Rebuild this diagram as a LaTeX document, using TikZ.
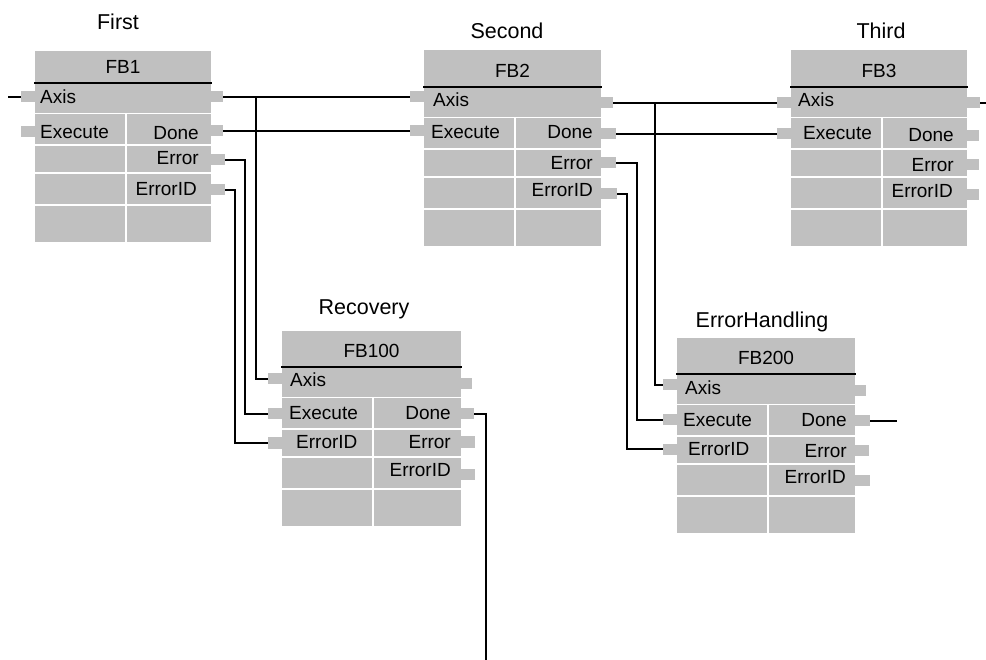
\documentclass[tikz,border=0pt]{standalone}
\usepackage{fontspec}
\setmainfont{Liberation Sans}
\usetikzlibrary{calc}
\definecolor{blockgray}{RGB}{192,192,192}
\tikzset{
  block/.style={fill=blockgray, inner sep=0, outer sep=0, anchor=north west},
  inpin/.style={fill=blockgray, inner sep=0, outer sep=0, minimum width=14pt, minimum height=11pt, anchor=east},
  outpin/.style={fill=blockgray, inner sep=0, outer sep=0, minimum height=11pt, anchor=west},
  sepline/.style={white, line width=1.6pt},
  headrule/.style={black, line width=2pt},
  wire/.style={black, line width=1.5pt},
  pinlabel/.style={inner sep=0, font=\fontsize{19}{19}\selectfont},
  typename/.style={inner sep=0, anchor=base, font=\fontsize{19}{19}\selectfont},
  instname/.style={inner sep=0, anchor=base, font=\fontsize{21.5}{21.5}\selectfont},
}
% function block frame: #1 name, #2 left x, #3 top y, #4 header rule y, #5 width, #6 type name
\newcommand\fbframe[6]{%
  \node[block, minimum width=#5, minimum height={#4+159-#3}] (#1) at (#2,#3) {};
  \begin{scope}[shift={(#2,#4)}]
    \draw[sepline] (0,30.5) -- (#5,30.5) (0,62) -- (#5,62) (0,90) -- (#5,90)
                   (0,122) -- (#5,122) (91,30.5) -- (91,159);
    \draw[headrule] (-1,0) -- ({#5+1},0);
  \end{scope}
  \node[typename] (#1-type) at ({#2+#5/2},{#4-9.5}) {#6};
}
% input port: #1 name, #2 block edge x, #3 pin y, #4 label x, #5 label baseline, #6 text
\newcommand\inport[6]{%
  \node[inpin] (#1) at (#2,#3) {};
  \node[pinlabel, anchor=base west] (#1-l) at (#4,#5) {#6};
}
% output port: #1 name, #2 block edge x, #3 pin y, #4 pin width, #5 label right x, #6 label baseline, #7 text
\newcommand\outport[7]{%
  \node[outpin, minimum width=#4] (#1) at (#2,#3) {};
  \node[pinlabel, anchor=base east] (#1-l) at (#5,#6) {#7};
}
\begin{document}
\begin{tikzpicture}[x=1pt, y=-1pt]
\useasboundingbox (0,0) rectangle (986,660);

% instance names
\node[instname] (n1) at (118,30) {First};
\node[instname] (n2) at (507,39) {Second};
\node[instname] (n3) at (881,39) {Third};
\node[instname] (n100) at (364,315) {Recovery};
\node[instname] (n200) at (762,328) {ErrorHandling};

% FB1
\fbframe{fb1}{35}{51}{83}{176}{FB1}
\inport{fb1ax}{35}{97}{40}{104}{Axis}
\inport{fb1ex}{35}{132}{40}{139}{Execute}
\outport{fb1axo}{211}{97}{12}{0}{0}{}
\outport{fb1dn}{211}{131}{12}{199}{140}{Done}
\outport{fb1er}{211}{160}{14}{199}{165}{Error}
\outport{fb1eo}{211}{190}{14}{197}{196}{ErrorID}

% FB2
\fbframe{fb2}{424}{50}{87}{177}{FB2}
\inport{fb2ax}{424}{97}{433}{107}{Axis}
\inport{fb2ex}{424}{131}{431}{139}{Execute}
\outport{fb2axo}{601}{103}{12}{0}{0}{}
\outport{fb2dn}{601}{134}{15}{593}{139}{Done}
\outport{fb2er}{601}{163}{15}{593}{170}{Error}
\outport{fb2eo}{601}{194}{16}{593}{197}{ErrorID}

% FB3
\fbframe{fb3}{791}{50}{87}{176}{FB3}
\inport{fb3ax}{791}{103}{798}{107}{Axis}
\inport{fb3ex}{791}{134}{803}{140}{Execute}
\outport{fb3axo}{967}{103}{13}{0}{0}{}
\outport{fb3dn}{967}{136}{12}{954}{142}{Done}
\outport{fb3er}{967}{165}{12}{954}{172}{Error}
\outport{fb3eo}{967}{195}{12}{953}{198}{ErrorID}

% FB100
\fbframe{fb100}{282}{331}{367}{179}{FB100}
\inport{fb100ax}{282}{379}{290}{387}{Axis}
\inport{fb100ex}{282}{414}{289}{420}{Execute}
\inport{fb100ei}{282}{443}{296}{448}{ErrorID}
\outport{fb100axo}{461}{384}{11}{0}{0}{}
\outport{fb100dn}{461}{414}{13}{451}{420}{Done}
\outport{fb100er}{461}{442}{14}{451}{449}{Error}
\outport{fb100eo}{461}{474}{14}{451}{476}{ErrorID}

% FB200
\fbframe{fb200}{677}{338}{374}{178}{FB200}
\inport{fb200ax}{677}{385}{685}{395}{Axis}
\inport{fb200ex}{677}{420}{683}{427}{Execute}
\inport{fb200ei}{677}{449}{688}{455}{ErrorID}
\outport{fb200axo}{855}{391}{11}{0}{0}{}
\outport{fb200dn}{855}{421}{15}{847}{427}{Done}
\outport{fb200er}{855}{450}{14}{847}{457}{Error}
\outport{fb200eo}{855}{480}{15}{846}{483}{ErrorID}

% wiring points
\coordinate (src) at (8,97);
\coordinate (t1) at (256,97);
\coordinate (b1) at (245,0);
\coordinate (b2) at (235,0);
\coordinate (t2) at (655,103);
\coordinate (b3) at (637,0);
\coordinate (b4) at (627,0);
\coordinate (out3) at (986,103);
\coordinate (b5) at (486,660);
\coordinate (out200) at (897,421);

% wires
\draw[wire] (src) -- (fb1ax.west);
\draw[wire] (fb1axo.east) -- (fb2ax.west);
\draw[wire] (fb1dn.east) -- (fb2ex.west);
\draw[wire] (t1) |- (fb100ax.west);
\draw[wire] (fb1er.east) -- (fb1er.east -| b1) |- (fb100ex.west);
\draw[wire] (fb1eo.east) -- (fb1eo.east -| b2) |- (fb100ei.west);
\draw[wire] (fb2axo.east) -- (fb3ax.west);
\draw[wire] (fb2dn.east) -- (fb3ex.west);
\draw[wire] (t2) |- (fb200ax.west);
\draw[wire] (fb2er.east) -- (fb2er.east -| b3) |- (fb200ex.west);
\draw[wire] (fb2eo.east) -- (fb2eo.east -| b4) |- (fb200ei.west);
\draw[wire] (fb3axo.east) -- (out3);
\draw[wire] (fb100dn.east) -| (b5);
\draw[wire] (fb200dn.east) -- (out200);
\end{tikzpicture}
\end{document}
